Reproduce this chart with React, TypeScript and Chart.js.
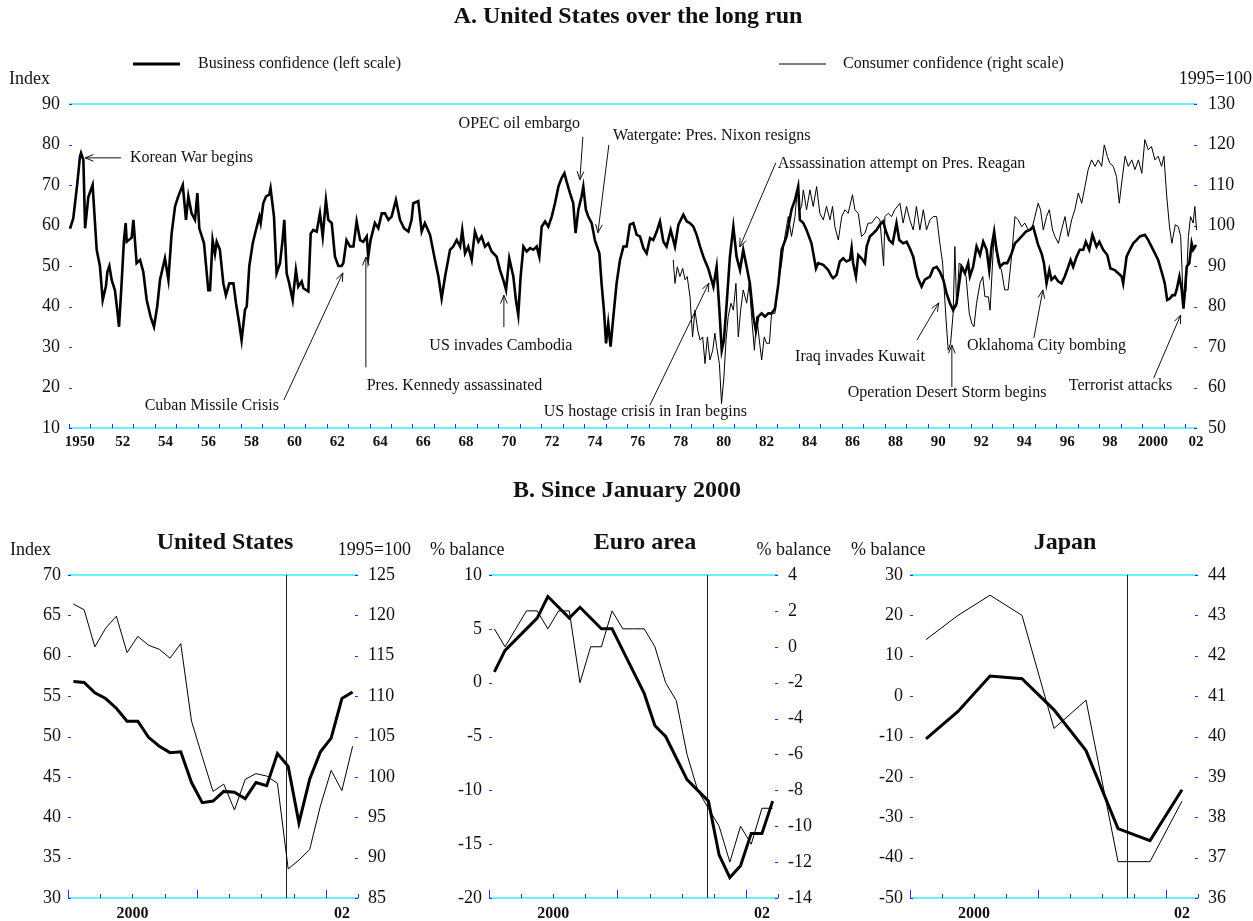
import React, { useEffect, useRef } from "react";
import { Chart, registerables } from "chart.js";

Chart.register(...registerables);

const SERIF = "'Liberation Serif', 'Times New Roman', Times, serif";
const CYAN = "#3cecfa";
const BLUE = "#2233ff";
const INK = "#111111";

Chart.defaults.font.family = SERIF;
Chart.defaults.color = INK;

// ---------------- Panel A: United States over the long run ----------------
// [year, index] – business confidence (left scale)
const businessLongRun: [number, number][] = [
  [1950.05, 59.2], [1950.2, 61.8], [1950.39, 70.5], [1950.51, 77.0], [1950.56, 77.9], [1950.67, 76.2], [1950.75, 59.3], [1950.9, 67.0],
  [1951.1, 70.0], [1951.29, 54.0], [1951.44, 50.0], [1951.57, 41.6], [1951.72, 45.0], [1951.79, 48.6], [1951.88, 50.0], [1951.99, 46.5],
  [1952.14, 44.0], [1952.25, 39.0], [1952.33, 35.0], [1952.45, 45.7], [1952.56, 56.4], [1952.64, 60.6], [1952.69, 56.0], [1952.92, 57.0],
  [1953.0, 61.4], [1953.15, 50.7], [1953.31, 51.5], [1953.46, 48.6], [1953.62, 41.6], [1953.8, 37.5], [1953.96, 35.0], [1954.11, 40.0],
  [1954.24, 46.6], [1954.47, 51.9], [1954.63, 46.6], [1954.78, 58.0], [1954.94, 64.7], [1955.09, 67.2], [1955.3, 70.0], [1955.45, 61.4],
  [1955.56, 67.2], [1955.71, 63.0], [1955.87, 61.4], [1955.98, 68.0], [1956.07, 59.3], [1956.29, 55.6], [1956.49, 44.0], [1956.57, 44.0],
  [1956.69, 56.4], [1956.8, 53.0], [1956.88, 56.0], [1957.03, 54.0], [1957.19, 45.7], [1957.31, 42.8], [1957.47, 45.7], [1957.66, 45.7],
  [1957.78, 40.8], [1957.93, 35.8], [1958.04, 31.7], [1958.2, 39.2], [1958.28, 40.0], [1958.4, 50.0], [1958.56, 55.6], [1958.71, 58.9],
  [1958.87, 62.2], [1958.93, 60.6], [1959.05, 65.5], [1959.18, 67.2], [1959.33, 67.6], [1959.39, 69.2], [1959.55, 62.2], [1959.67, 48.2],
  [1959.83, 50.7], [1959.95, 56.4], [1960.03, 61.4], [1960.14, 48.2], [1960.26, 45.7], [1960.42, 41.6], [1960.57, 49.0], [1960.68, 44.9],
  [1960.84, 46.2], [1960.92, 44.5], [1961.15, 43.7], [1961.26, 58.0], [1961.38, 58.9], [1961.54, 58.5], [1961.69, 63.0], [1961.82, 57.3],
  [1961.97, 66.3], [1962.08, 61.4], [1962.24, 60.6], [1962.39, 52.3], [1962.55, 50.0], [1962.7, 50.0], [1962.78, 50.7], [1962.93, 56.4],
  [1963.09, 54.8], [1963.25, 54.8], [1963.4, 61.0], [1963.56, 56.4], [1963.71, 56.0], [1963.87, 57.3], [1963.94, 52.3], [1964.05, 56.4],
  [1964.25, 60.6], [1964.41, 59.3], [1964.57, 63.0], [1964.72, 63.0], [1964.88, 61.4], [1965.03, 62.2], [1965.23, 66.3], [1965.42, 61.4],
  [1965.61, 59.3], [1965.81, 58.5], [1965.96, 61.4], [1966.04, 65.5], [1966.27, 66.0], [1966.43, 58.5], [1966.58, 60.6], [1966.82, 57.7],
  [1967.05, 51.5], [1967.21, 47.4], [1967.36, 42.0], [1967.52, 47.4], [1967.75, 54.0], [1967.9, 54.8], [1968.06, 56.4], [1968.22, 54.8],
  [1968.32, 58.9], [1968.45, 53.1], [1968.6, 54.8], [1968.76, 51.5], [1968.91, 58.5], [1969.07, 56.0], [1969.22, 57.3], [1969.38, 54.8],
  [1969.53, 55.6], [1969.69, 53.6], [1969.92, 52.3], [1970.08, 49.0], [1970.23, 46.6], [1970.36, 44.1], [1970.51, 51.9], [1970.7, 47.4],
  [1970.82, 41.6], [1970.93, 37.9], [1971.04, 47.4], [1971.17, 54.8], [1971.32, 53.6], [1971.48, 54.4], [1971.63, 54.0], [1971.79, 54.8],
  [1971.91, 52.3], [1972.02, 59.7], [1972.18, 61.0], [1972.33, 59.7], [1972.49, 62.2], [1972.64, 65.5], [1972.8, 69.6], [1972.95, 71.7],
  [1973.08, 72.9], [1973.18, 70.9], [1973.34, 68.0], [1973.49, 65.5], [1973.6, 58.1], [1973.73, 63.9], [1973.88, 67.2], [1973.96, 69.6],
  [1974.08, 63.9], [1974.19, 62.2], [1974.35, 60.6], [1974.5, 56.4], [1974.71, 53.1], [1974.81, 45.7], [1974.92, 39.1], [1975.02, 30.9],
  [1975.12, 35.8], [1975.23, 30.1], [1975.36, 37.5], [1975.51, 45.7], [1975.67, 51.5], [1975.83, 54.8], [1975.98, 54.8], [1976.13, 60.2],
  [1976.29, 60.6], [1976.45, 57.7], [1976.6, 57.3], [1976.76, 54.4], [1976.91, 53.1], [1977.07, 56.9], [1977.22, 56.4], [1977.38, 58.5],
  [1977.53, 61.0], [1977.69, 56.0], [1977.84, 54.8], [1978.03, 58.9], [1978.23, 54.8], [1978.39, 60.2], [1978.62, 62.7], [1978.78, 61.0],
  [1978.93, 60.6], [1979.09, 59.7], [1979.24, 57.7], [1979.4, 54.8], [1979.58, 51.9], [1979.78, 49.4], [1980.02, 44.9], [1980.17, 49.8],
  [1980.3, 39.1], [1980.41, 29.2], [1980.51, 31.7], [1980.64, 40.8], [1980.79, 52.3], [1980.95, 59.7], [1981.1, 52.3], [1981.26, 49.0],
  [1981.41, 54.0], [1981.57, 49.8], [1981.72, 45.7], [1981.88, 37.5], [1982.0, 34.0], [1982.11, 37.5], [1982.27, 38.3], [1982.42, 37.5],
  [1982.58, 38.3], [1982.73, 38.3], [1982.89, 39.5], [1983.05, 45.7], [1983.2, 54.0], [1983.43, 57.3], [1983.66, 63.9], [1983.82, 66.3],
  [1983.97, 69.6], [1984.05, 61.4], [1984.21, 60.6], [1984.36, 58.9], [1984.59, 55.6], [1984.8, 49.4], [1984.9, 50.7], [1985.14, 50.3],
  [1985.37, 49.0], [1985.53, 47.4], [1985.6, 47.0], [1985.76, 47.8], [1985.91, 51.1], [1986.07, 51.9], [1986.22, 51.1], [1986.38, 51.5],
  [1986.46, 54.4], [1986.53, 50.7], [1986.66, 47.4], [1986.77, 52.7], [1986.92, 51.9], [1987.08, 50.7], [1987.16, 54.8], [1987.31, 57.3],
  [1987.47, 58.1], [1987.62, 58.9], [1987.78, 60.2], [1987.93, 61.0], [1988.06, 58.5], [1988.21, 56.4], [1988.37, 55.6], [1988.55, 60.6],
  [1988.68, 56.4], [1988.86, 55.6], [1989.02, 56.0], [1989.17, 54.4], [1989.33, 52.3], [1989.52, 47.4], [1989.72, 44.9], [1989.87, 46.6],
  [1990.11, 47.4], [1990.26, 49.4], [1990.42, 49.8], [1990.57, 48.6], [1990.73, 46.6], [1990.88, 43.3], [1991.04, 40.8], [1991.19, 39.1],
  [1991.35, 40.8], [1991.47, 45.7], [1991.58, 49.8], [1991.74, 48.2], [1991.89, 50.7], [1991.97, 47.4], [1992.12, 49.8], [1992.28, 54.8],
  [1992.44, 52.7], [1992.59, 56.0], [1992.75, 54.0], [1992.87, 49.0], [1992.98, 54.8], [1993.1, 58.5], [1993.21, 54.0], [1993.37, 49.8],
  [1993.55, 50.7], [1993.71, 50.7], [1993.91, 53.1], [1994.07, 55.6], [1994.22, 56.4], [1994.38, 57.3], [1994.58, 58.5], [1994.76, 58.9],
  [1994.92, 59.7], [1995.04, 57.3], [1995.15, 55.2], [1995.31, 53.1], [1995.42, 50.7], [1995.54, 45.7], [1995.67, 49.0], [1995.77, 46.6],
  [1995.93, 47.4], [1996.08, 46.2], [1996.24, 45.7], [1996.39, 47.4], [1996.55, 49.8], [1996.66, 51.5], [1996.78, 49.8], [1996.94, 52.3],
  [1997.09, 54.0], [1997.25, 54.0], [1997.37, 56.0], [1997.53, 54.0], [1997.68, 57.7], [1997.87, 54.8], [1998.0, 56.0], [1998.18, 54.0],
  [1998.37, 52.7], [1998.52, 49.4], [1998.72, 49.0], [1998.88, 48.2], [1999.04, 47.4], [1999.11, 45.7], [1999.27, 52.3], [1999.42, 54.0],
  [1999.58, 55.6], [1999.73, 56.4], [1999.89, 57.3], [2000.12, 57.7], [2000.28, 56.4], [2000.43, 54.8], [2000.59, 53.1], [2000.74, 51.5],
  [2000.9, 48.6], [2001.05, 45.7], [2001.16, 41.6], [2001.29, 42.0], [2001.41, 42.8], [2001.52, 42.8], [2001.6, 44.1], [2001.73, 47.4],
  [2001.84, 44.1], [2001.92, 39.5], [2001.99, 44.1], [2002.07, 49.8], [2002.19, 50.7], [2002.3, 55.6], [2002.37, 54.0], [2002.5, 55.2],
];

// [year, 1995=100] – consumer confidence (right scale)
const consumerLongRun: [number, number][] = [
  [1978.15, 91.5], [1978.23, 85.7], [1978.34, 89.8], [1978.46, 87.4], [1978.59, 89.4], [1978.7, 86.6], [1978.8, 87.4], [1978.93, 82.4],
  [1979.05, 72.5], [1979.16, 79.1], [1979.29, 74.2], [1979.4, 71.7], [1979.52, 72.5], [1979.63, 65.9], [1979.74, 72.5], [1979.86, 66.8],
  [1979.99, 69.2], [1980.09, 73.4], [1980.17, 70.1], [1980.3, 65.9], [1980.4, 56.0], [1980.51, 62.6], [1980.61, 71.7], [1980.71, 77.5],
  [1980.84, 80.8], [1980.95, 79.1], [1981.07, 85.7], [1981.18, 72.5], [1981.29, 79.1], [1981.41, 84.1], [1981.57, 80.8], [1981.69, 85.7],
  [1981.8, 77.5], [1981.93, 69.2], [1982.04, 77.5], [1982.16, 71.7], [1982.27, 66.8], [1982.39, 72.5], [1982.5, 70.9], [1982.63, 70.9],
  [1982.73, 78.3], [1982.89, 78.3], [1983.04, 85.7], [1983.2, 90.7], [1983.35, 97.3], [1983.51, 102.2], [1983.66, 97.3], [1983.82, 102.2],
  [1983.93, 108.8], [1984.05, 103.9], [1984.13, 104.7], [1984.21, 108.8], [1984.36, 103.9], [1984.52, 108.8], [1984.67, 104.7], [1984.83, 109.6],
  [1984.98, 103.0], [1985.14, 101.4], [1985.29, 104.7], [1985.45, 101.4], [1985.57, 104.7], [1985.68, 99.7], [1985.84, 96.4], [1986.0, 102.2],
  [1986.15, 103.9], [1986.3, 103.0], [1986.5, 107.6], [1986.61, 103.9], [1986.77, 103.0], [1986.92, 97.3], [1987.08, 98.1], [1987.23, 100.6],
  [1987.39, 100.6], [1987.62, 102.2], [1987.78, 101.4], [1987.95, 90.0], [1988.01, 102.2], [1988.16, 103.0], [1988.32, 102.2], [1988.47, 103.9],
  [1988.71, 105.5], [1988.86, 100.6], [1989.02, 104.7], [1989.17, 101.4], [1989.33, 98.9], [1989.48, 104.7], [1989.64, 98.9], [1989.8, 103.9],
  [1989.95, 98.9], [1990.11, 101.4], [1990.26, 102.2], [1990.42, 102.2], [1990.57, 95.6], [1990.7, 90.7], [1990.85, 77.5], [1990.96, 69.2],
  [1991.07, 70.9], [1991.19, 78.3], [1991.27, 94.8], [1991.35, 80.0], [1991.47, 90.7], [1991.64, 89.9], [1991.79, 87.4], [1991.94, 78.3],
  [1992.06, 75.8], [1992.16, 75.0], [1992.28, 80.8], [1992.44, 85.7], [1992.57, 87.4], [1992.67, 82.4], [1992.83, 82.4], [1992.91, 79.1],
  [1993.09, 97.3], [1993.28, 90.7], [1993.44, 89.0], [1993.59, 84.1], [1993.75, 84.1], [1993.91, 92.3], [1994.07, 102.2], [1994.22, 101.4],
  [1994.38, 99.7], [1994.53, 100.6], [1994.69, 98.9], [1994.84, 98.9], [1995.0, 102.2], [1995.15, 105.5], [1995.26, 103.9], [1995.39, 98.9],
  [1995.54, 102.2], [1995.67, 103.9], [1995.82, 98.9], [1995.93, 97.3], [1996.09, 95.6], [1996.24, 98.9], [1996.4, 102.2], [1996.55, 97.3],
  [1996.71, 101.4], [1996.86, 103.9], [1997.02, 108.0], [1997.18, 105.5], [1997.33, 109.6], [1997.48, 113.8], [1997.64, 116.2], [1997.8, 114.6],
  [1997.95, 116.2], [1998.11, 114.6], [1998.23, 119.9], [1998.37, 117.1], [1998.49, 115.4], [1998.65, 114.6], [1998.8, 112.1], [1998.93, 105.5],
  [1999.04, 110.5], [1999.2, 117.1], [1999.35, 114.6], [1999.51, 116.2], [1999.66, 113.8], [1999.82, 116.2], [1999.98, 112.9], [2000.12, 121.2],
  [2000.28, 118.7], [2000.43, 119.5], [2000.59, 116.2], [2000.74, 117.1], [2000.9, 114.6], [2001.01, 117.1], [2001.14, 107.2], [2001.27, 99.7],
  [2001.38, 95.6], [2001.54, 100.2], [2001.68, 99.7], [2001.79, 97.3], [2001.92, 80.0], [2002.04, 84.1], [2002.15, 97.3], [2002.25, 102.2],
  [2002.37, 100.6], [2002.45, 104.7], [2002.53, 98.9],
];

const longRunLabelYears = [1950, 1952, 1954, 1956, 1958, 1960, 1962, 1964, 1966, 1968, 1970, 1972, 1974, 1976, 1978, 1980, 1982, 1984, 1986, 1988, 1990, 1992, 1994, 1996, 1998, 2000, 2002];
const longRunLabels = ["1950", "52", "54", "56", "58", "60", "62", "64", "66", "68", "70", "72", "74", "76", "78", "80", "82", "84", "86", "88", "90", "92", "94", "96", "98", "2000", "02"];

// events: text anchor and arrow, in [year, left-scale value]
type Ev = { label: string; textAt: [number, number]; align: CanvasTextAlign; from: [number, number]; to: [number, number] };
const longRunEvents: Ev[] = [
  { label: "Korean War begins", textAt: [1952.84, 76.7], align: "left", from: [1952.42, 76.7], to: [1950.75, 76.7] },
  { label: "Cuban Missile Crisis", textAt: [1959.78, 15.4], align: "right", from: [1960.01, 16.9], to: [1962.76, 48.3] },
  { label: "Pres. Kennedy assassinated", textAt: [1963.87, 20.3], align: "left", from: [1963.83, 25.0], to: [1963.83, 52.2] },
  { label: "US invades Cambodia", textAt: [1970.12, 30.2], align: "center", from: [1970.26, 34.9], to: [1970.26, 42.8] },
  { label: "OPEC oil embargo", textAt: [1970.98, 85.1], align: "center", from: [1973.94, 81.9], to: [1973.8, 71.3] },
  { label: "Watergate: Pres. Nixon resigns", textAt: [1975.34, 82.2], align: "left", from: [1975.15, 79.9], to: [1974.64, 58.2] },
  { label: "Assassination attempt on Pres. Reagan", textAt: [1983.02, 75.3], align: "left", from: [1982.93, 75.5], to: [1981.25, 54.7] },
  { label: "US hostage crisis in Iran begins", textAt: [1972.12, 14.1], align: "left", from: [1977.06, 15.6], to: [1979.81, 45.8] },
  { label: "Iraq invades Kuwait", textAt: [1989.87, 27.7], align: "right", from: [1989.5, 31.7], to: [1990.52, 40.9] },
  { label: "Operation Desert Storm begins", textAt: [1986.28, 18.6], align: "left", from: [1991.13, 20.1], to: [1991.13, 30.5] },
  { label: "Oklahoma City bombing", textAt: [1991.83, 30.2], align: "left", from: [1994.95, 32.2], to: [1995.37, 44.1] },
  { label: "Terrorist attacks", textAt: [1996.58, 20.3], align: "left", from: [2000.53, 22.3], to: [2001.79, 37.9] },
];

// ---------------- Panel B: since January 2000 (months since Jan 2000) ----------------
const panelTickMonths = [6, 25.5];
const panelTickLabels = ["2000", "02"];
const attackMonth = 20.33; // 11 September 2001

const usBusiness = [56.8, 56.7, 55.4, 54.7, 53.5, 51.9, 51.9, 49.9, 48.8, 48.0, 48.1, 44.3, 41.8, 42.0, 43.2, 43.1, 42.3, 44.3, 43.9, 47.9, 46.3, 39.3, 44.7, 48.1, 49.8, 54.7, 55.5];
const usConsumer = [121.4, 120.7, 116.1, 118.4, 119.9, 115.4, 117.4, 116.3, 115.8, 114.7, 116.5, 106.9, 102.5, 98.2, 99.1, 95.9, 99.7, 100.4, 100.1, 99.2, 88.6, 89.7, 91.0, 96.4, 100.8, 98.3, 103.8];

const euroBusiness = [1, 3, 4, 5, 6, 8, 7, 6, 7, 6, 5, 5, 3, 1, -1, -4, -5, -7, -9, -10, -11, -16, -18.1, -17, -14, -14, -11];
const euroConsumer = [1, 0, 1, 2, 2, 1, 2, 2, -2, 0, 0, 2, 1, 1, 1, 0, -2, -3, -6, -8, -9, -10, -12, -10, -11, -9, -9];

// quarterly
const japanBusiness = [-10.6, -3.8, 5.0, 4.3, -3.4, -13.5, -32.8, -35.8, -23.2];
const japanConsumer = [42.4, 43.0, 43.5, 43.0, 40.2, 40.9, 36.9, 36.9, 38.4];

// ---------------- helpers ----------------
type TextItem = { text: string; x: number; y: number; align: CanvasTextAlign; font: string };
type Stroke = { x0: number; x1: number; y: number; w: number };

function textPlugin(items: TextItem[], strokes: Stroke[] = []) {
  return {
    id: "texts",
    afterDraw(chart: any) {
      const ctx = chart.ctx as CanvasRenderingContext2D;
      ctx.save();
      ctx.fillStyle = INK;
      ctx.textBaseline = "middle";
      for (const it of items) {
        ctx.font = it.font;
        ctx.textAlign = it.align;
        ctx.fillText(it.text, it.x, it.y);
      }
      ctx.strokeStyle = "#000";
      for (const s of strokes) {
        ctx.lineWidth = s.w;
        ctx.beginPath();
        ctx.moveTo(s.x0, s.y);
        ctx.lineTo(s.x1, s.y);
        ctx.stroke();
      }
      ctx.restore();
    },
  };
}

function framePlugin(xTicks: { v: number; len: number }[], marker?: number) {
  return {
    id: "frame",
    beforeDatasetsDraw(chart: any) {
      const { ctx, chartArea: a, scales } = chart;
      ctx.save();
      ctx.lineWidth = 1.5;
      ctx.strokeStyle = CYAN;
      ctx.beginPath();
      ctx.moveTo(a.left, a.top);
      ctx.lineTo(a.right, a.top);
      ctx.moveTo(a.left, a.bottom);
      ctx.lineTo(a.right, a.bottom);
      ctx.stroke();
      ctx.lineWidth = 1;
      ctx.strokeStyle = BLUE;
      ctx.beginPath();
      for (const id of ["yL", "yR"]) {
        const s = scales[id];
        for (const t of s.ticks) {
          const y = Math.round(s.getPixelForValue(t.value)) + 0.5;
          const x0 = id === "yL" ? a.left : a.right - 3;
          ctx.moveTo(x0, y);
          ctx.lineTo(x0 + 3, y);
        }
      }
      for (const t of xTicks) {
        const x = Math.round(scales.x.getPixelForValue(t.v)) + 0.5;
        ctx.moveTo(x, a.bottom);
        ctx.lineTo(x, a.bottom - t.len);
      }
      ctx.stroke();
      if (marker !== undefined) {
        const x = Math.round(scales.x.getPixelForValue(marker)) + 0.5;
        ctx.strokeStyle = "#222";
        ctx.lineWidth = 1;
        ctx.beginPath();
        ctx.moveTo(x, a.top);
        ctx.lineTo(x, a.bottom);
        ctx.stroke();
      }
      ctx.restore();
    },
  };
}

const eventsPlugin = {
  id: "events",
  afterDatasetsDraw(chart: any) {
    const ctx = chart.ctx as CanvasRenderingContext2D;
    const x = chart.scales.x;
    const y = chart.scales.yL;
    ctx.save();
    ctx.font = `16px ${SERIF}`;
    ctx.fillStyle = INK;
    ctx.strokeStyle = INK;
    ctx.lineWidth = 1;
    ctx.textBaseline = "middle";
    for (const e of longRunEvents) {
      ctx.textAlign = e.align;
      ctx.fillText(e.label, x.getPixelForValue(e.textAt[0]), y.getPixelForValue(e.textAt[1]));
      const x0 = x.getPixelForValue(e.from[0]);
      const y0 = y.getPixelForValue(e.from[1]);
      const x1 = x.getPixelForValue(e.to[0]);
      const y1 = y.getPixelForValue(e.to[1]);
      const ang = Math.atan2(y1 - y0, x1 - x0);
      const hl = 9;
      const sp = 0.38;
      ctx.beginPath();
      ctx.moveTo(x0, y0);
      ctx.lineTo(x1, y1);
      ctx.moveTo(x1 - hl * Math.cos(ang - sp), y1 - hl * Math.sin(ang - sp));
      ctx.lineTo(x1, y1);
      ctx.lineTo(x1 - hl * Math.cos(ang + sp), y1 - hl * Math.sin(ang + sp));
      ctx.stroke();
    }
    ctx.restore();
  },
};

const yAxis = (position: "left" | "right", min: number, max: number, step: number, padding: number, width: number) => ({
  type: "linear",
  position,
  min,
  max,
  grid: { display: false, drawTicks: false },
  border: { display: false },
  ticks: { stepSize: step, padding, font: { size: 18 }, color: INK },
  afterFit: (s: any) => {
    s.width = width;
  },
});

function longRunConfig(): any {
  const yearTicks: { v: number; len: number }[] = [];
  for (let yr = 1950; yr <= 2002; yr++) yearTicks.push({ v: yr, len: 4 });
  return {
    type: "line",
    data: {
      datasets: [
        {
          label: "Business confidence (left scale)",
          data: businessLongRun.map(([x, y]) => ({ x, y })),
          yAxisID: "yL",
          borderColor: "#000",
          borderWidth: 2.6,
          pointRadius: 0,
          tension: 0,
        },
        {
          label: "Consumer confidence (right scale)",
          data: consumerLongRun.map(([x, y]) => ({ x, y })),
          yAxisID: "yR",
          borderColor: "#000",
          borderWidth: 1,
          pointRadius: 0,
          tension: 0,
        },
      ],
    },
    options: {
      animation: false,
      responsive: false,
      events: [],
      layout: { padding: { top: 104, left: 0, right: 0, bottom: 0 } },
      plugins: { legend: { display: false }, tooltip: { enabled: false } },
      scales: {
        x: {
          type: "linear",
          min: 1950,
          max: 2002.55,
          grid: { display: false, drawTicks: false },
          border: { display: false },
          afterBuildTicks: (s: any) => {
            s.ticks = longRunLabelYears.map((yr) => ({ value: yr + 0.5 }));
          },
          ticks: {
            autoSkip: false,
            maxRotation: 0,
            padding: 5,
            font: { size: 15, weight: "bold" },
            color: INK,
            callback: (_v: any, i: number) => longRunLabels[i],
          },
          afterFit: (s: any) => {
            s.height = 82;
          },
        },
        yL: yAxis("left", 10, 90, 10, 9, 69),
        yR: yAxis("right", 50, 130, 10, 11, 56),
      },
    },
    plugins: [
      framePlugin(yearTicks),
      eventsPlugin,
      textPlugin(
        [
          { text: "A. United States over the long run", x: 628, y: 17, align: "center", font: `bold 24px ${SERIF}` },
          { text: "Business confidence (left scale)", x: 198, y: 64, align: "left", font: `16px ${SERIF}` },
          { text: "Consumer confidence (right scale)", x: 843, y: 64, align: "left", font: `16px ${SERIF}` },
          { text: "Index", x: 9, y: 79, align: "left", font: `18px ${SERIF}` },
          { text: "1995=100", x: 1252, y: 79, align: "right", font: `18px ${SERIF}` },
          { text: "B. Since January 2000", x: 627, y: 491, align: "center", font: `bold 24px ${SERIF}` },
        ],
        [
          { x0: 133, x1: 180, y: 64, w: 3 },
          { x0: 779, x1: 826, y: 64, w: 1 },
        ]
      ),
    ],
  };
}

type PanelSpec = {
  business: number[];
  consumer: number[];
  monthsPerPoint: number;
  left: [number, number, number];
  right: [number, number, number];
  yLWidth: number;
  yRWidth: number;
  texts: TextItem[];
};

function panelConfig(p: PanelSpec): any {
  const ticks: { v: number; len: number }[] = [];
  for (let m = 0; m <= 27; m += 3) ticks.push({ v: m, len: m % 12 === 0 ? 8 : 4 });
  const pos = (i: number) => i * p.monthsPerPoint + p.monthsPerPoint / 2;
  return {
    type: "line",
    data: {
      datasets: [
        {
          label: "Business confidence",
          data: p.business.map((v, i) => ({ x: pos(i), y: v })),
          yAxisID: "yL",
          borderColor: "#000",
          borderWidth: 3,
          pointRadius: 0,
          tension: 0,
        },
        {
          label: "Consumer confidence",
          data: p.consumer.map((v, i) => ({ x: pos(i), y: v })),
          yAxisID: "yR",
          borderColor: "#000",
          borderWidth: 1,
          pointRadius: 0,
          tension: 0,
        },
      ],
    },
    options: {
      animation: false,
      responsive: false,
      events: [],
      layout: { padding: { top: 65, left: 0, right: 0, bottom: 0 } },
      plugins: { legend: { display: false }, tooltip: { enabled: false } },
      scales: {
        x: {
          type: "linear",
          min: 0,
          max: 27,
          grid: { display: false, drawTicks: false },
          border: { display: false },
          afterBuildTicks: (s: any) => {
            s.ticks = panelTickMonths.map((m) => ({ value: m }));
          },
          ticks: {
            autoSkip: false,
            maxRotation: 0,
            padding: 6,
            font: { size: 16, weight: "bold" },
            color: INK,
            callback: (_v: any, i: number) => panelTickLabels[i],
          },
          afterFit: (s: any) => {
            s.height = 23;
          },
        },
        yL: yAxis("left", p.left[0], p.left[1], p.left[2], 7, p.yLWidth),
        yR: yAxis("right", p.right[0], p.right[1], p.right[2], 10, p.yRWidth),
      },
    },
    plugins: [framePlugin(ticks, attackMonth), textPlugin(p.texts)],
  };
}

const usPanel: PanelSpec = {
  business: usBusiness,
  consumer: usConsumer,
  monthsPerPoint: 1,
  left: [30, 70, 5],
  right: [85, 125, 5],
  yLWidth: 68,
  yRWidth: 62,
  texts: [
    { text: "United States", x: 225, y: 33, align: "center", font: `bold 24px ${SERIF}` },
    { text: "Index", x: 10, y: 40, align: "left", font: `18px ${SERIF}` },
    { text: "1995=100", x: 411, y: 40, align: "right", font: `18px ${SERIF}` },
  ],
};

const euroPanel: PanelSpec = {
  business: euroBusiness,
  consumer: euroConsumer,
  monthsPerPoint: 1,
  left: [-20, 10, 5],
  right: [-14, 4, 2],
  yLWidth: 69,
  yRWidth: 62,
  texts: [
    { text: "Euro area", x: 225, y: 33, align: "center", font: `bold 24px ${SERIF}` },
    { text: "% balance", x: 10, y: 40, align: "left", font: `18px ${SERIF}` },
    { text: "% balance", x: 411, y: 40, align: "right", font: `18px ${SERIF}` },
  ],
};

const japanPanel: PanelSpec = {
  business: japanBusiness,
  consumer: japanConsumer,
  monthsPerPoint: 3,
  left: [-50, 30, 10],
  right: [36, 44, 1],
  yLWidth: 70,
  yRWidth: 55,
  texts: [
    { text: "Japan", x: 225, y: 33, align: "center", font: `bold 24px ${SERIF}` },
    { text: "% balance", x: 11, y: 40, align: "left", font: `18px ${SERIF}` },
  ],
};

function ChartCanvas(props: { build: () => any; left: number; top: number; width: number; height: number }) {
  const ref = useRef<HTMLCanvasElement>(null);
  useEffect(() => {
    const chart = new Chart(ref.current as HTMLCanvasElement, props.build());
    return () => chart.destroy();
  }, []);
  return (
    <canvas
      ref={ref}
      width={props.width}
      height={props.height}
      style={{ position: "absolute", left: props.left, top: props.top, width: props.width, height: props.height }}
    />
  );
}

export default function App() {
  return (
    <div style={{ position: "absolute", left: 0, top: 0, width: 1253, height: 921, background: "#ffffff", overflow: "hidden" }}>
      <ChartCanvas build={longRunConfig} left={0} top={0} width={1253} height={510} />
      <ChartCanvas build={() => panelConfig(usPanel)} left={0} top={510} width={420} height={411} />
      <ChartCanvas build={() => panelConfig(euroPanel)} left={420} top={510} width={420} height={411} />
      <ChartCanvas build={() => panelConfig(japanPanel)} left={840} top={510} width={413} height={411} />
    </div>
  );
}
